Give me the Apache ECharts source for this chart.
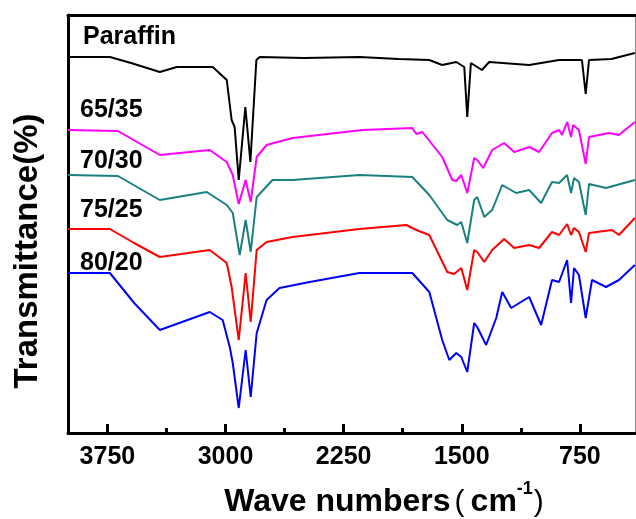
<!DOCTYPE html>
<html>
<head>
<meta charset="utf-8">
<script src="https://cdn.jsdelivr.net/npm/echarts@6/dist/echarts.min.js"></script>
<style>
  html, body { margin: 0; padding: 0; background: #fff; }
  #chart { width: 636px; height: 519px; }
</style>
</head>
<body>
<div id="chart"></div>
<script>
// wavenumbers (cm-1) and transmittance (arbitrary, stacked offsets)
const paraffinWn = [4000, 3734, 3600, 3417, 3309, 3081, 2992, 2961, 2942, 2916, 2874, 2842, 2804, 2783, 2500, 2150, 1900, 1706, 1624, 1535, 1484, 1465, 1442, 1372, 1326, 1072, 882, 737, 713, 692, 550, 401];
const paraffinT  = [376, 376, 370, 361, 366, 366, 353, 313, 306, 253, 326, 271, 373, 376, 375, 376, 374, 373, 368, 371, 366, 316, 370, 363, 371, 368, 373, 373, 339, 373, 374, 380];

const s6535Wn = [4000, 3683, 3550, 3417, 3100, 2992, 2954, 2916, 2872, 2840, 2802, 2739, 2574, 2131, 1814, 1788, 1750, 1624, 1560, 1535, 1503, 1465, 1421, 1402, 1364, 1307, 1231, 1167, 1072, 1009, 927, 882, 863, 831, 806, 793, 756, 713, 692, 565, 502, 401];
const s6535T  = [303, 302, 290, 278, 283, 271, 258, 229, 253, 231, 276, 288, 295, 303, 305, 299, 301, 276, 253, 252, 258, 240, 275, 273, 265, 283, 290, 281, 286, 281, 300, 303, 298, 311, 296, 308, 303, 269, 296, 300, 298, 311];

const s7030Wn = [4000, 3683, 3550, 3417, 3119, 2992, 2954, 2910, 2872, 2840, 2802, 2701, 2574, 2150, 1814, 1706, 1592, 1529, 1503, 1465, 1421, 1402, 1357, 1307, 1243, 1155, 1072, 996, 927, 882, 831, 806, 787, 756, 713, 692, 584, 401];
const s7030T  = [258, 257, 245, 233, 241, 228, 220, 178, 213, 181, 236, 253, 253, 258, 256, 238, 213, 208, 211, 190, 233, 236, 216, 223, 248, 240, 243, 230, 251, 250, 258, 240, 255, 251, 218, 249, 245, 253];

const s7525Wn = [4000, 3734, 3580, 3417, 3100, 2992, 2961, 2916, 2872, 2840, 2802, 2739, 2574, 2150, 1852, 1788, 1706, 1592, 1548, 1503, 1465, 1421, 1402, 1357, 1307, 1231, 1167, 1072, 1009, 927, 882, 831, 806, 787, 756, 713, 692, 546, 502, 401];
const s7525T  = [204, 204, 190, 176, 183, 170, 146, 93, 160, 111, 183, 191, 196, 204, 208, 203, 198, 161, 159, 165, 143, 183, 181, 171, 183, 194, 185, 188, 185, 201, 198, 209, 198, 205, 201, 181, 200, 203, 198, 215];

const s8020Wn = [4000, 3734, 3580, 3417, 3100, 3018, 2973, 2954, 2916, 2872, 2840, 2802, 2739, 2657, 2466, 2150, 1814, 1706, 1624, 1579, 1535, 1503, 1465, 1421, 1402, 1345, 1281, 1243, 1186, 1072, 996, 927, 882, 831, 806, 787, 756, 713, 673, 584, 502, 401];
const s8020T  = [160, 160, 130, 103, 121, 113, 86, 70, 25, 83, 36, 100, 133, 145, 151, 160, 160, 141, 93, 73, 80, 76, 61, 110, 106, 88, 115, 141, 125, 136, 108, 153, 151, 173, 130, 165, 158, 115, 153, 146, 153, 168];

const seriesNames = ['Paraffin', '65/35', '70/30', '75/25', '80/20'];
const seriesColors = ['#000000', '#ff00ff', '#1b8080', '#ff0000', '#0000ff'];
const majorTicks = [3750, 3000, 2250, 1500, 750];
const minorTicks = [3375, 2625, 1875, 1125];

const zip = (xs, ys) => xs.map((x, i) => [x, ys[i]]);
const allData = [
  zip(paraffinWn, paraffinT),
  zip(s6535Wn, s6535T),
  zip(s7030Wn, s7030T),
  zip(s7525Wn, s7525T),
  zip(s8020Wn, s8020T)
];

const chart = echarts.init(document.getElementById('chart'));
const font = '"Liberation Sans", Arial, sans-serif';

const baseX = {
  type: 'value', min: 400, max: 4000, inverse: true,
  splitLine: { show: false }
};

const option = {
  animation: false,
  backgroundColor: '#fff',
  grid: { left: 68, right: 1, top: 15, bottom: 86 },
  xAxis: [
    Object.assign({}, baseX, {
      position: 'bottom',
      axisLine: { onZero: false, lineStyle: { color: '#000', width: 3 } },
      axisTick: { customValues: majorTicks, inside: true, length: 9, lineStyle: { color: '#000', width: 3 } },
      axisLabel: {
        customValues: majorTicks, margin: 12, color: '#000',
        fontFamily: font, fontWeight: 'bold', fontSize: 25,
        formatter: v => String(v)
      }
    }),
    Object.assign({}, baseX, {
      position: 'bottom',
      axisLine: { show: false, onZero: false },
      axisTick: { customValues: minorTicks, inside: true, length: 5, lineStyle: { color: '#000', width: 3 } },
      axisLabel: { show: false }
    }),
    Object.assign({}, baseX, {
      position: 'top',
      axisLine: { onZero: false, lineStyle: { color: '#000', width: 3 } },
      axisTick: { show: false },
      axisLabel: { show: false }
    })
  ],
  yAxis: [
    {
      type: 'value', min: 0, max: 418, position: 'left',
      axisLine: { show: true, onZero: false, lineStyle: { color: '#000', width: 3 } },
      axisTick: { show: false }, axisLabel: { show: false }, splitLine: { show: false }
    },
    {
      type: 'value', min: 0, max: 418, position: 'right',
      axisLine: { show: true, onZero: false, lineStyle: { color: '#888', width: 1 } },
      axisTick: { show: false }, axisLabel: { show: false }, splitLine: { show: false }
    }
  ],
  series: allData.map((d, i) => ({
    name: seriesNames[i],
    type: 'line',
    data: d,
    showSymbol: false,
    lineStyle: { color: seriesColors[i], width: 2 },
    xAxisIndex: 0,
    yAxisIndex: 0
  })),
  graphic: [
    { type: 'text', x: 83, y: 37, style: { text: 'Paraffin', font: 'bold 25px ' + font, fill: '#000', verticalAlign: 'middle' } },
    { type: 'text', x: 80, y: 110, style: { text: '65/35', font: 'bold 25px ' + font, fill: '#000', verticalAlign: 'middle' } },
    { type: 'text', x: 80, y: 161, style: { text: '70/30', font: 'bold 25px ' + font, fill: '#000', verticalAlign: 'middle' } },
    { type: 'text', x: 80, y: 210, style: { text: '75/25', font: 'bold 25px ' + font, fill: '#000', verticalAlign: 'middle' } },
    { type: 'text', x: 80, y: 263, style: { text: '80/20', font: 'bold 25px ' + font, fill: '#000', verticalAlign: 'middle' } },
    {
      type: 'text', x: 28, y: 251, rotation: Math.PI / 2,
      style: { text: 'Transmittance(%)', font: 'bold 33px ' + font, fill: '#000', align: 'center', verticalAlign: 'middle' }
    },
    {
      type: 'text', x: 384, y: 499,
      style: {
        text: '{a|Wave numbers}{p|(}{a|cm}{s|-1}{q|)}',
        align: 'center', verticalAlign: 'middle',
        rich: {
          a: { font: 'bold 32px ' + font, fill: '#000', lineHeight: 38, verticalAlign: 'bottom' },
          p: { font: '30px ' + font, fill: '#000', lineHeight: 38, verticalAlign: 'bottom', padding: [0, 6, 0, 4] },
          q: { font: '30px ' + font, fill: '#000', lineHeight: 38, verticalAlign: 'bottom', padding: [0, 0, 0, 1] },
          s: { font: 'bold 18px ' + font, fill: '#000', lineHeight: 38, verticalAlign: 'top' }
        }
      }
    }
  ]
};

chart.setOption(option);
window.addEventListener('resize', () => chart.resize());
</script>
</body>
</html>
